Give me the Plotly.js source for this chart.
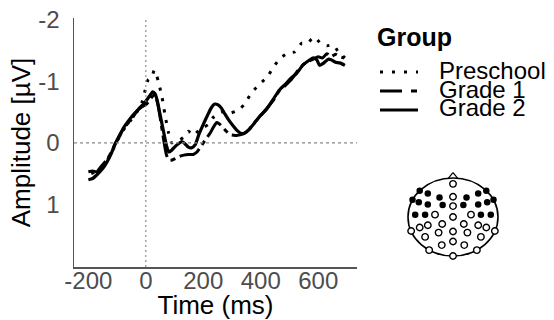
<!DOCTYPE html>
<html><head><meta charset="utf-8">
<script src="https://cdn.plot.ly/plotly-3.0.1.min.js"></script>
<style>html,body{margin:0;padding:0;background:#fff}#chart{width:554px;height:320px}</style>
</head><body><div id="chart"></div>
<script>
// ---------- data ----------
const groupNames = ["Preschool", "Grade 1", "Grade 2"];

const preschoolT = [-190,-170,-150,-130,-110,-90,-70,-50,-31,-14,-2,9,20,29,37,44,56,67,79,90,105,119,133,148,165,186,200,218,232,247,262,276,290,311,326,342,365,392,421,444,467,496,519,543,560,586,610,630,653,670,693];
const preschoolV = [0.50,0.46,0.38,0.25,0.07,-0.12,-0.26,-0.38,-0.50,-0.65,-0.86,-1.03,-1.05,-1.18,-1.10,-0.99,-0.75,-0.45,-0.16,0.00,-0.03,-0.05,-0.10,-0.19,-0.12,-0.21,-0.25,-0.30,-0.40,-0.46,-0.50,-0.50,-0.48,-0.51,-0.55,-0.62,-0.79,-0.94,-1.06,-1.23,-1.37,-1.46,-1.48,-1.62,-1.61,-1.72,-1.61,-1.58,-1.59,-1.48,-1.38];

const grade1T = [-200,-185,-170,-155,-136,-120,-107,-90,-75,-60,-45,-30,-15,0,12,24,32,42,52,62,72,80,92,105,118,132,148,165,178,190,200,212,224,236,247,258,270,282,295,315,340,360,380,400,421,445,465,485,505,525,548,565,583,600,615,630,645,660,675,690];
const grade1V = [0.47,0.46,0.47,0.38,0.28,0.15,0.02,-0.14,-0.25,-0.33,-0.42,-0.52,-0.58,-0.62,-0.68,-0.76,-0.78,-0.62,-0.35,-0.05,0.20,0.28,0.28,0.25,0.22,0.20,0.19,0.19,0.15,0.07,0.00,-0.08,-0.16,-0.26,-0.33,-0.30,-0.24,-0.18,-0.13,-0.12,-0.15,-0.22,-0.34,-0.44,-0.56,-0.70,-0.85,-0.93,-1.02,-1.15,-1.27,-1.32,-1.36,-1.40,-1.38,-1.45,-1.40,-1.44,-1.40,-1.38];

const grade2T = [-200,-185,-170,-150,-136,-120,-107,-90,-78,-60,-43,-25,-8,10,24,32,40,50,61,72,80,90,100,112,125,135,148,160,172,185,200,215,228,240,250,262,275,290,305,320,333,345,360,378,400,421,445,465,485,505,525,548,565,583,595,605,620,635,645,660,675,693];
const grade2V = [0.60,0.58,0.52,0.42,0.32,0.17,0.02,-0.12,-0.24,-0.36,-0.46,-0.55,-0.63,-0.74,-0.83,-0.80,-0.68,-0.45,-0.20,0.05,0.15,0.12,0.07,0.02,-0.02,0.01,0.07,0.08,0.03,-0.14,-0.30,-0.45,-0.57,-0.63,-0.62,-0.57,-0.47,-0.36,-0.27,-0.19,-0.15,-0.16,-0.22,-0.32,-0.45,-0.55,-0.72,-0.86,-0.95,-1.05,-1.13,-1.27,-1.33,-1.38,-1.35,-1.26,-1.30,-1.36,-1.35,-1.31,-1.30,-1.26];

const xTickVals = [-200, 0, 200, 400, 600];
const xTickText = ["-200", "0", "200", "400", "600"];
const yTickVals = [-2, -1, 0, 1];
const yTickText = ["-2", "-1", "0", "1"];

// electrode map (unit head coordinates)
const filledU = [-0.74,0.74,-0.56,0.56,-0.30,0.30,-0.90,0.90,-0.76,0.76,-0.56,0.56,-0.23,0.23,-0.84,0.84,-0.62,0.62];
const filledV = [0.67,0.67,0.60,0.60,0.50,0.50,0.44,0.44,0.38,0.38,0.32,0.32,0.31,0.31,0.06,0.06,0.06,0.06];
const openU = [0,0,0,0,0,0,0,-0.40,0.40,-0.74,0.74,-0.56,0.56,-0.24,0.24,-0.93,0.93,-0.32,0.32,-0.62,0.62,-0.53,0.53,-0.25,0.25];
const openV = [0.85,0.52,0.28,0.0,-0.37,-0.63,-1.0,0.06,0.06,-0.27,-0.27,-0.21,-0.21,-0.18,-0.18,-0.36,-0.36,-0.40,-0.40,-0.51,-0.51,-0.85,-0.85,-0.72,-0.72];

// ---------- layout helpers (pixel geometry) ----------
const W = 554, H = 320;
const L = 74, T = 18, R = 0, B = 53;
const PW = W - L - R, PH = H - T - B;
const px = x => (x - L) / PW;
const py = y => (H - B - y) / PH;

const FONT = "Liberation Sans, Arial, sans-serif";
const mainRight = 357;
const headCx = 453, headCy = 217, headRx = 45, headRy = 39, headPad = 1.15;

const dotDash = "3px,8px";
const longShort = "22px,5px,5px,5px";

const traces = [
  {x: preschoolT, y: preschoolV, name: groupNames[0], mode: "lines", line: {color: "#000", width: 3, dash: dotDash, shape: "spline", smoothing: 0.6}},
  {x: grade1T, y: grade1V, name: groupNames[1], mode: "lines", line: {color: "#000", width: 3, dash: longShort, shape: "spline", smoothing: 0.6}},
  {x: grade2T, y: grade2V, name: groupNames[2], mode: "lines", line: {color: "#000", width: 3.2, shape: "spline", smoothing: 0.6}},
  {x: filledU, y: filledV, xaxis: "x2", yaxis: "y2", mode: "markers", marker: {symbol: "circle", size: 6.5, color: "#000"}, hoverinfo: "skip"},
  {x: openU, y: openV, xaxis: "x2", yaxis: "y2", mode: "markers", marker: {symbol: "circle", size: 6.5, color: "#fff", line: {color: "#000", width: 1.4}}, hoverinfo: "skip"}
];

const annotations = [
  {text: "<b>Group</b>", xref: "paper", yref: "paper", x: px(375), y: py(37), xanchor: "left", yanchor: "middle", showarrow: false, font: {family: FONT, size: 25, color: "#000"}},
];
const legY = [70, 89, 107];
groupNames.forEach((g, i) => annotations.push({text: g, xref: "paper", yref: "paper", x: px(437), y: py(legY[i]), xanchor: "left", yanchor: "middle", showarrow: false, font: {family: FONT, size: 24, color: "#000"}}));

const shapes = [
  {type: "line", xref: "x", yref: "paper", x0: 0, x1: 0, y0: 0, y1: 1, line: {color: "#777", width: 1, dash: "2px,3px"}},
  {type: "line", xref: "paper", yref: "y", x0: 0, x1: px(mainRight), y0: 0, y1: 0, line: {color: "#888", width: 1.2, dash: "3px,3px"}},
  // legend samples
  {type: "line", xref: "paper", yref: "paper", x0: px(380), x1: px(418), y0: py(legY[0]+2), y1: py(legY[0]+2), line: {color: "#000", width: 3, dash: "3px,9px"}},
  {type: "line", xref: "paper", yref: "paper", x0: px(380), x1: px(418), y0: py(legY[1]+2), y1: py(legY[1]+2), line: {color: "#000", width: 3, dash: "22px,9px,6px,9px"}},
  {type: "line", xref: "paper", yref: "paper", x0: px(380), x1: px(418), y0: py(legY[2]+3), y1: py(legY[2]+3), line: {color: "#000", width: 3}},
  // head outline and nose
  {type: "circle", xref: "x2", yref: "y2", x0: -1, x1: 1, y0: -1, y1: 1, line: {color: "#000", width: 1.6}, layer: "below"},
  {type: "path", xref: "x2", yref: "y2", path: "M -0.11 0.985 L 0 1.14 L 0.11 0.985", line: {color: "#000", width: 1.2}}
];

const layout = {
  width: W, height: H,
  margin: {l: L, r: R, t: T, b: B},
  paper_bgcolor: "#fff", plot_bgcolor: "#fff",
  showlegend: false,
  font: {family: FONT},
  xaxis: {
    domain: [0, px(mainRight)], range: [-250, 735],
    tickvals: xTickVals, ticktext: xTickText, ticks: "", ticklen: 0, ticklabelstandoff: -8,
    tickfont: {family: FONT, size: 24, color: "#4d4d4d"},
    showgrid: false, zeroline: false, showline: true, linecolor: "#555", linewidth: 1.5,
    title: {text: "Time (ms)", font: {family: FONT, size: 26, color: "#000"}, standoff: 9}
  },
  yaxis: {
    domain: [0, 1], range: [2.02, -2.03],
    tickvals: yTickVals, ticktext: yTickText, ticks: "", ticklen: 0, ticklabelstandoff: 8,
    tickfont: {family: FONT, size: 24, color: "#4d4d4d"},
    showgrid: false, zeroline: false, showline: true, linecolor: "#555", linewidth: 1.5,
    title: {text: "Amplitude [µV]", font: {family: FONT, size: 26, color: "#000"}, standoff: 0}
  },
  xaxis2: {
    domain: [px(headCx - headRx*headPad), px(headCx + headRx*headPad)], range: [-headPad, headPad], anchor: "y2",
    visible: false, fixedrange: true
  },
  yaxis2: {
    domain: [py(headCy + headRy*headPad), py(headCy - headRy*headPad)], range: [-headPad, headPad], anchor: "x2",
    visible: false, fixedrange: true
  },
  annotations: annotations,
  shapes: shapes
};

Plotly.newPlot("chart", traces, layout, {displayModeBar: false, staticPlot: true});
</script>
</body></html>
